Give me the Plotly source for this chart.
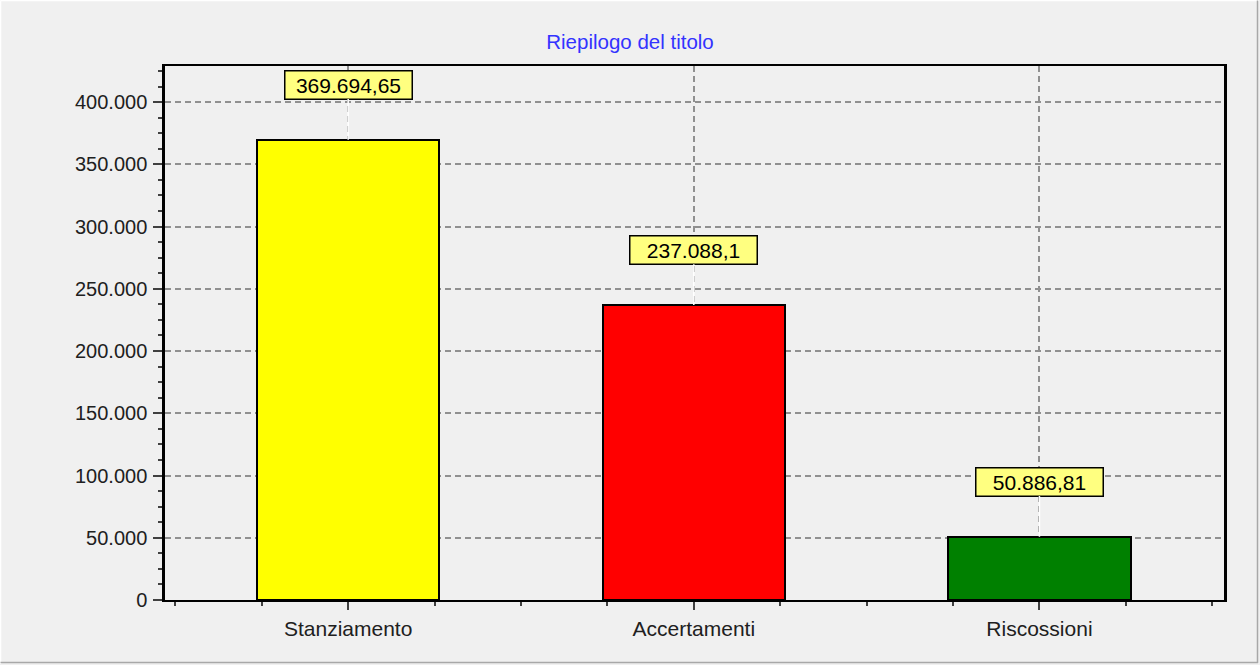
import plotly.graph_objects as go

# Chart data
categorie = ["Stanziamento", "Accertamenti", "Riscossioni"]
importi = [369694.65, 237088.1, 50886.81]
colori = ["#ffff00", "#ff0000", "#008000"]
titolo = "Riepilogo del titolo"


def formato_it(v):
    # 369694.65 -> "369.694,65"
    s = f"{v:,.2f}".rstrip("0").rstrip(".")
    return s.replace(",", "#").replace(".", ",").replace("#", ".")


FONT = "Liberation Sans, Arial, sans-serif"
BG = "#f0f0f0"

# Plot area in pixels (used for the panel bevel)
L, R, T, B = 165, 1224, 66, 600
W, H = 1260, 665


def px_x(p):
    return (p - L) / (R - L)


def px_y(p):
    return (B - p) / (B - T)


x_pos = list(range(len(categorie)))

fig = go.Figure()
fig.add_trace(go.Bar(
    x=x_pos,
    y=importi,
    width=0.527,
    marker=dict(color=colori, line=dict(color="#000000", width=2)),
    hoverinfo="skip",
))

# Value labels in yellow boxes, joined to the bar with a white line
for xi, v in zip(x_pos, importi):
    fig.add_annotation(
        x=xi, y=v, text=formato_it(v),
        showarrow=True, arrowhead=0, arrowwidth=1.5, arrowcolor="#ffffff",
        ax=0, ay=-55, standoff=0,
        width=124, height=25,
        bgcolor="#ffff80", bordercolor="#000000", borderwidth=1.5, borderpad=1,
        font=dict(family=FONT, size=21, color="#000000"),
    )

# Panel bevel: white on top/left, gray on bottom/right
bevel = [
    (0.5, 0.5, 1259, 0.5, "#ffffff"),
    (0.5, 0.5, 0.5, 664, "#ffffff"),
    (1257.5, 0.5, 1257.5, 663, "#a8a8a8"),
    (0.5, 662.5, 1258, 662.5, "#a8a8a8"),
]
for x0, y0, x1, y1, c in bevel:
    fig.add_shape(
        type="line", xref="paper", yref="paper",
        x0=px_x(x0), x1=px_x(x1), y0=px_y(y0), y1=px_y(y1),
        line=dict(color=c, width=1.5), layer="below",
    )

fig.update_layout(
    width=W, height=H,
    margin=dict(l=L, r=W - R, t=T, b=H - B, pad=0),
    paper_bgcolor=BG, plot_bgcolor=BG,
    separators=",.",
    showlegend=False,
    bargap=0,
    font=dict(family=FONT, size=20, color="#202020"),
    title=dict(
        text=titolo, x=0.5, xanchor="center", y=1 - 42 / H, yanchor="middle",
        font=dict(family=FONT, size=20.5, color="#3333ff"),
    ),
    xaxis=dict(
        range=[-0.530, 2.534],
        tickvals=x_pos, ticktext=categorie,
        ticks="outside", ticklen=8, tickwidth=1.5, tickcolor="#404040",
        minor=dict(dtick=0.25, tick0=0, ticks="outside", ticklen=4,
                   tickcolor="#404040", showgrid=False),
        showgrid=True, gridcolor="#909090", gridwidth=1.5, griddash="6px,4px",
        showline=True, linecolor="#000000", linewidth=2, mirror=True,
        zeroline=False,
        ticklabelstandoff=1,
        tickfont=dict(family=FONT, size=21, color="#202020"),
    ),
    yaxis=dict(
        range=[0, 429000],
        dtick=50000, tickformat=",",
        ticks="outside", ticklen=9, tickwidth=1.5, tickcolor="#404040",
        minor=dict(dtick=12500, ticks="outside", ticklen=4,
                   tickcolor="#404040", showgrid=False),
        showgrid=True, gridcolor="#909090", gridwidth=1.5, griddash="6px,4px",
        showline=True, linecolor="#000000", linewidth=2.5, mirror=True,
        zeroline=False,
        ticklabelstandoff=2,
        tickfont=dict(family=FONT, size=20, color="#202020"),
    ),
)

# Remove the default page margin so the figure sits at the window origin
fig.write_html(
    "out.html",
    config={"displayModeBar": False},
    post_script="document.body.style.margin='0';",
)
